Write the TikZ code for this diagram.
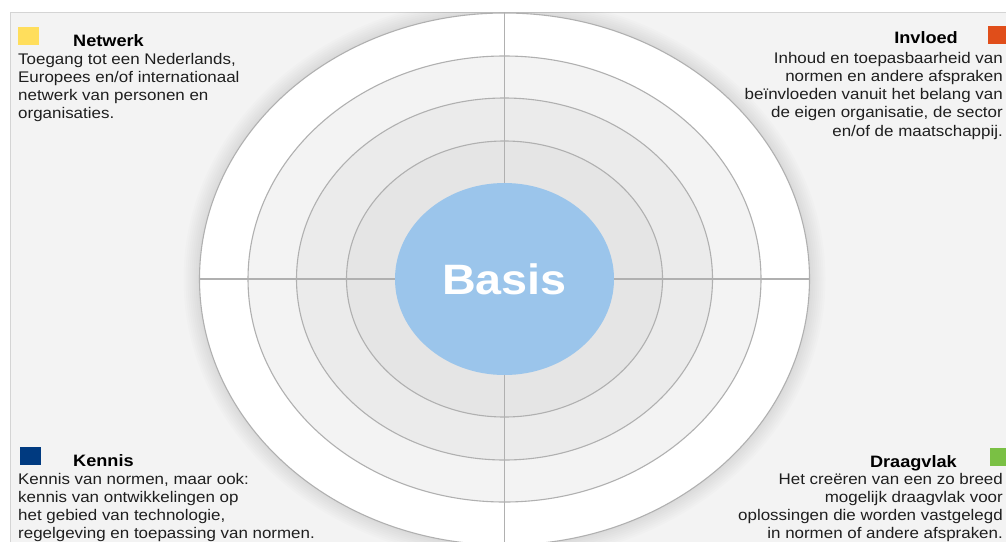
\documentclass[tikz,border=0pt]{standalone}
\usepackage{fontspec}
\setmainfont{Liberation Sans}[FakeStretch=1.1]
\usetikzlibrary{shapes.geometric,positioning}
\definecolor{boxline}{RGB}{212,212,212}
\definecolor{bggray}{RGB}{243,243,243}
\definecolor{ringline}{RGB}{176,176,176}
\definecolor{bandone}{RGB}{243,243,243}
\definecolor{bandtwo}{RGB}{235,235,235}
\definecolor{bandthree}{RGB}{229,229,229}
\definecolor{basisblue}{RGB}{155,197,235}
\definecolor{netyellow}{RGB}{255,222,92}
\definecolor{invorange}{RGB}{224,78,26}
\definecolor{kennavy}{RGB}{0,58,128}
\definecolor{draggreen}{RGB}{122,192,68}

\begin{document}
\begin{tikzpicture}[x=1pt,y=-1pt,
        ring/.style={ellipse, draw=ringline, line width=1.1pt, inner sep=0pt},
        spoke/.style={draw=ringline, line width=1.1pt},
        swatch/.style={anchor=north west, inner sep=0pt, minimum width=21pt, minimum height=18pt},
        title/.style={inner sep=0pt, font=\fontsize{16.5}{18}\selectfont\bfseries, text=black},
        body/.style={inner sep=0pt, font=\fontsize{15.4}{18.2}\selectfont, text=black!88}]
          \useasboundingbox (0,0) rectangle (1006,541);
          \draw [boxline, fill=bggray] (10,12) rectangle (1030,570);
          % soft shadow round the outer ring, kept inside the box
          \begin{scope}
          \clip (10.5,12.5) rectangle (1030,570);
          \foreach \r in {16,14,...,2}
                \fill [black, opacity=0.013] (504.5,279) ellipse ({305+\r} and {266+\r});
          \end{scope}
		\node[ring, fill=white, minimum width=610pt, minimum height=532pt] (outer) at (504.5,279) {};
		\node[ring, fill=bandone, minimum width=513pt, minimum height=446pt] (ringa) at (504.5,279) {};
		\node[ring, fill=bandtwo, minimum width=416pt, minimum height=362pt] (ringb) at (504.5,279) {};
		\node[ring, fill=bandthree, minimum width=316pt, minimum height=276pt] (ringc) at (504.5,279) {};
		\node[ellipse, fill=basisblue, inner sep=0pt, minimum width=219pt, minimum height=192pt,
		      text=white, font=\fontsize{42.5}{42}\selectfont\bfseries] (basis) at (504.5,279) {Basis};
		\draw [spoke] (outer.north) -- (basis.north);
		\draw [spoke] (outer.south) -- (basis.south);
		\draw [spoke] (outer.west) -- (basis.west);
		\draw [spoke] (outer.east) -- (basis.east);
                % Netwerk
		\node[swatch, fill=netyellow] (netsq) at (18,27) {};
		\node[title, anchor=base west] (nettitle) at (73,46) {Netwerk};
		\node[body, anchor=north west, align=left] (nettext) at (18,53) {Toegang tot een Nederlands,\\Europees en/of internationaal\\netwerk van personen en\\organisaties.};
                % Invloed
		\node[swatch, fill=invorange] (invsq) at (988,26) {};
		\node[title, anchor=base east] (invtitle) at (958,43) {Invloed};
		\node[body, anchor=north east, align=right] (invtext) at (1003,52) {Inhoud en toepasbaarheid van\\normen en andere afspraken\\beïnvloeden vanuit het belang van\\de eigen organisatie, de sector\\en/of de maatschappij.};
                % Kennis
		\node[swatch, fill=kennavy] (kensq) at (20,447) {};
		\node[title, anchor=base west] (kentitle) at (73,466) {Kennis};
		\node[body, anchor=north west, align=left] (kentext) at (18,473) {Kennis van normen, maar ook:\\kennis van ontwikkelingen op\\het gebied van technologie,\\regelgeving en toepassing van normen.};
                % Draagvlak
		\node[swatch, fill=draggreen] (dragsq) at (990,448) {};
		\node[title, anchor=base east] (dragtitle) at (957,467) {Draagvlak};
		\node[body, anchor=north east, align=right] (dragtext) at (1003,473) {Het creëren van een zo breed\\mogelijk draagvlak voor\\oplossingen die worden vastgelegd\\in normen of andere afspraken.};
	\end{tikzpicture}
\end{document}
